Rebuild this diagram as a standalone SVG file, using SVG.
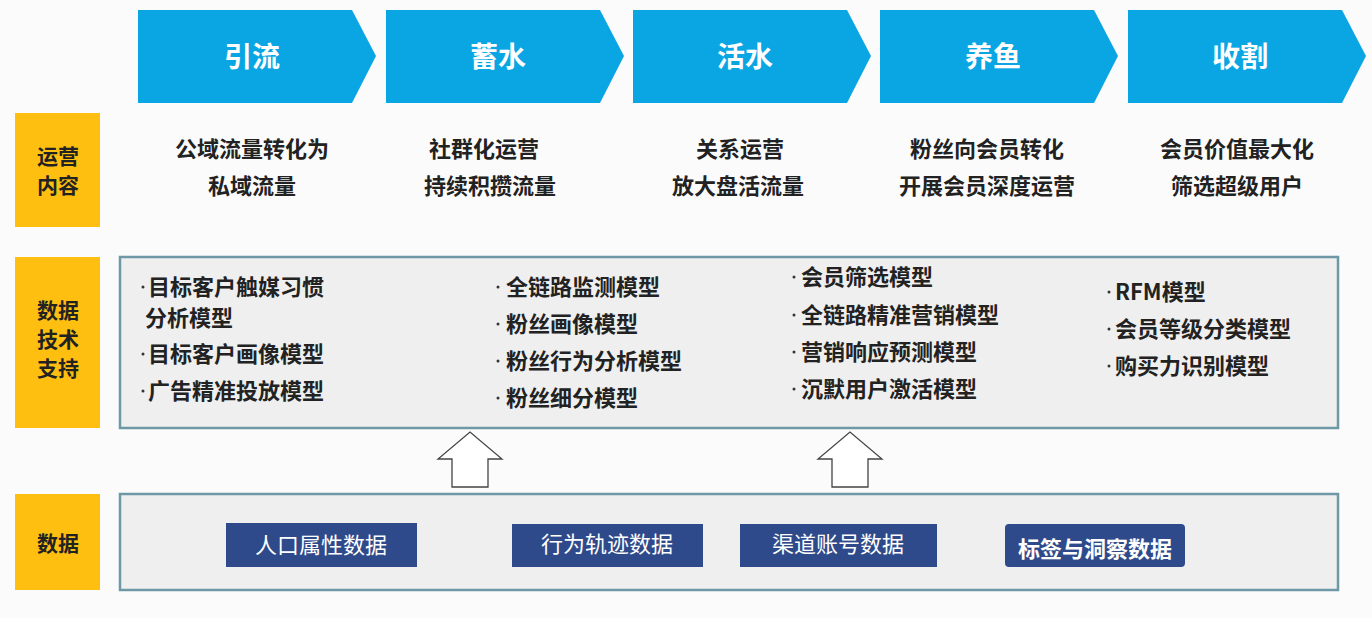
<svg xmlns="http://www.w3.org/2000/svg" width="1372" height="618" viewBox="0 0 1372 618">
<style>
text{font-family:"Noto Sans CJK SC","Liberation Sans",sans-serif;font-weight:bold}
.chev{fill:#0AA6E4}
.ct{fill:#fff;font-size:28px;text-anchor:middle}
.side{fill:#FEBF10}
.st{fill:#222;font-size:21px;text-anchor:middle}
.op{fill:#222;font-size:22px;text-anchor:middle}
.panel{fill:#EFEFEF;stroke:#6E98A6;stroke-width:2.5}
.m{fill:#222;font-size:22px}
.b{fill:#333}
.db{fill:#2F4A8A}
.dt{fill:#fff;font-size:22px;text-anchor:middle;font-weight:normal}
.up{fill:#fff;stroke:#444;stroke-width:1.3}
</style>
<rect width="1372" height="618" fill="#FBFBFB"/>
<g id="stages">
<polygon class="chev" points="138,10 352,10 376,56 352,103 138,103"/>
<text class="ct" x="252" y="67">引流</text>
<polygon class="chev" points="386,10 600,10 624,56 600,103 386,103"/>
<text class="ct" x="498" y="67">蓄水</text>
<polygon class="chev" points="633,10 847,10 871,56 847,103 633,103"/>
<text class="ct" x="745" y="67">活水</text>
<polygon class="chev" points="880,10 1094,10 1118,56 1094,103 880,103"/>
<text class="ct" x="993" y="67">养鱼</text>
<polygon class="chev" points="1128,10 1342,10 1366,56 1342,103 1128,103"/>
<text class="ct" x="1240" y="67">收割</text>
</g>
<g id="side-labels">
<rect class="side" x="15" y="113" width="85" height="114"/>
<text class="st" x="58" y="164">运营</text><text class="st" x="58" y="193">内容</text>
<rect class="side" x="15" y="257" width="85" height="171"/>
<text class="st" x="58" y="318">数据</text><text class="st" x="58" y="347">技术</text><text class="st" x="58" y="376">支持</text>
<rect class="side" x="15" y="494" width="85" height="96"/>
<text class="st" x="58" y="551">数据</text>
</g>
<g id="ops">
<text class="op" x="252" y="157">公域流量转化为</text><text class="op" x="252" y="194">私域流量</text>
<text class="op" x="484" y="157">社群化运营</text><text class="op" x="490" y="194">持续积攒流量</text>
<text class="op" x="740" y="157">关系运营</text><text class="op" x="738" y="194">放大盘活流量</text>
<text class="op" x="987" y="157">粉丝向会员转化</text><text class="op" x="987" y="194">开展会员深度运营</text>
<text class="op" x="1237" y="157">会员价值最大化</text><text class="op" x="1237" y="194">筛选超级用户</text>
</g>
<g id="tech">
<rect class="panel" x="120" y="257" width="1218" height="171"/>
<circle class="b" cx="143" cy="287" r="1.5"/><text class="m" x="148" y="295">目标客户触媒习惯</text>
<text class="m" x="145" y="326">分析模型</text>
<circle class="b" cx="143" cy="354" r="1.5"/><text class="m" x="148" y="362">目标客户画像模型</text>
<circle class="b" cx="143" cy="391" r="1.5"/><text class="m" x="148" y="399">广告精准投放模型</text>
<circle class="b" cx="498" cy="287" r="1.5"/><text class="m" x="506" y="295">全链路监测模型</text>
<circle class="b" cx="498" cy="324" r="1.5"/><text class="m" x="506" y="332">粉丝画像模型</text>
<circle class="b" cx="498" cy="361" r="1.5"/><text class="m" x="506" y="369">粉丝行为分析模型</text>
<circle class="b" cx="498" cy="398" r="1.5"/><text class="m" x="506" y="406">粉丝细分模型</text>
<circle class="b" cx="794" cy="277" r="1.5"/><text class="m" x="801" y="285">会员筛选模型</text>
<circle class="b" cx="794" cy="315" r="1.5"/><text class="m" x="801" y="323">全链路精准营销模型</text>
<circle class="b" cx="794" cy="352" r="1.5"/><text class="m" x="801" y="360">营销响应预测模型</text>
<circle class="b" cx="794" cy="389" r="1.5"/><text class="m" x="801" y="397">沉默用户激活模型</text>
<circle class="b" cx="1109" cy="292" r="1.5"/><text class="m" x="1115" y="300">RFM模型</text>
<circle class="b" cx="1109" cy="329" r="1.5"/><text class="m" x="1115" y="337">会员等级分类模型</text>
<circle class="b" cx="1109" cy="366" r="1.5"/><text class="m" x="1115" y="374">购买力识别模型</text>
</g>
<g id="connectors">
<polygon class="up" points="452,487 452,459 438,459 470,432 502,459 488,459 488,487"/>
<polygon class="up" points="832,487 832,459 818,459 850,432 882,459 868,459 868,487"/>
</g>
<g id="data">
<rect class="panel" x="120" y="494" width="1218" height="96"/>
<rect class="db" x="226" y="523" width="191" height="44"/><text class="dt" x="321" y="553">人口属性数据</text>
<rect class="db" x="512" y="524" width="191" height="43"/><text class="dt" x="607" y="552">行为轨迹数据</text>
<rect class="db" x="740" y="524" width="197" height="43"/><text class="dt" x="838" y="552">渠道账号数据</text>
<rect class="db" x="1005" y="524" width="180" height="43" rx="4"/><text class="dt" x="1095" y="557" style="font-weight:bold">标签与洞察数据</text>
</g>
</svg>
